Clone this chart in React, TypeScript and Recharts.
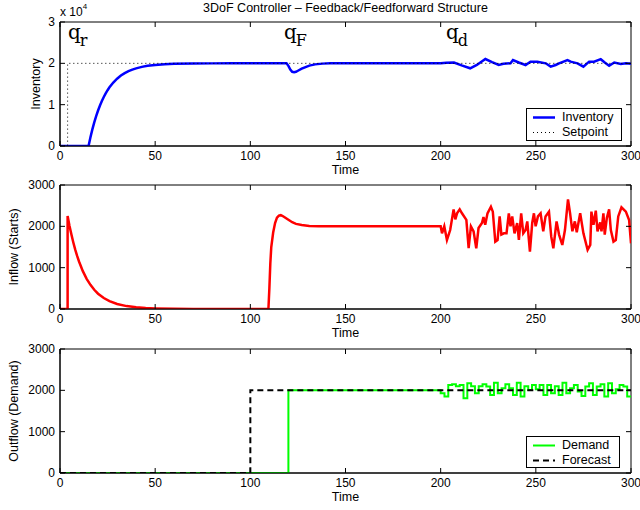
import React from 'react';
import { LineChart, Line, XAxis, YAxis, ReferenceDot, ReferenceArea, Legend } from 'recharts';

type Pt = [number, number];

const FONT = '"Liberation Sans", Arial, Helvetica, sans-serif';
const SERIF = '"DejaVu Serif", "Liberation Serif", serif';

// Axis ticks
const timeTicks = [0, 50, 100, 150, 200, 250, 300];
const inventoryTicks = [0, 10000, 20000, 30000];
const flowTicks = [0, 1000, 2000, 3000];

// Inventory level (units), sampled as [time, value]
const inventory: Pt[] = [
  [0, 0], [15, 0], [16, 2130], [17, 4030], [18, 5720], [19, 7230], [20, 8580], [21, 9810],
  [22, 10890], [23, 11860], [24, 12720], [25, 13500], [26, 14190], [28, 15360], [30, 16290],
  [32, 17040], [34, 17640], [36, 18110], [38, 18490], [40, 18790], [43, 19140], [46, 19390],
  [50, 19610], [55, 19780], [60, 19870], [70, 19960], [80, 19990], [90, 20000], [119, 20000],
  [120, 19400], [121, 18500], [122, 17950], [123, 17850], [124, 17950], [125, 18200], [127, 18700],
  [129, 19100], [131, 19450], [134, 19750], [138, 19930], [142, 20000], [200, 20000],
  [203, 20150], [207, 20200], [211, 19500], [215.5, 18800], [219, 19600], [223.5, 21050],
  [227, 20300], [230.5, 19600], [233, 19900], [236.7, 20000], [238, 20800], [241, 20200],
  [244.6, 19600], [247.2, 20400], [250.8, 20400], [255.2, 20000], [257.8, 19200], [260.4, 19600],
  [262.2, 20000], [266.6, 20800], [268.3, 20400], [271.9, 20000], [275, 19200], [278, 20400],
  [280.6, 20400], [284.1, 21000], [286.2, 20200], [288.5, 19400], [291.2, 20200], [294.7, 19850],
  [297.3, 20000], [300, 19900],
];

// Inventory setpoint (step)
const setpoint: Pt[] = [[0, 0], [4, 20000], [300, 20000]];

// Production starts (inflow)
const inflow: Pt[] = [
  [0, 0], [4, 0], [4, 2250], [5, 2010], [6, 1800], [7, 1610], [8, 1435], [9, 1285], [10, 1150],
  [12, 915], [14, 730], [16, 585], [18, 465], [20, 370], [23, 265], [26, 190], [30, 120],
  [35, 70], [40, 40], [45, 22], [50, 13], [60, 4], [70, 0], [109.5, 0], [110, 500], [110.5, 1100],
  [111, 1500], [112, 1850], [113, 2080], [114, 2210], [115, 2260], [116, 2270], [117, 2250],
  [118, 2220], [120, 2160], [122, 2100], [124, 2060], [127, 2030], [131, 2010], [136, 2000],
  [200, 2000], [200.7, 1830], [201.9, 2000], [203.3, 1670], [205, 1910], [206.8, 2410],
  [207.7, 2170], [208.6, 2315], [210, 2410], [211.2, 2315], [213.5, 2155], [214.7, 1470],
  [215.9, 2000], [217.3, 1880], [218.7, 1470], [219.9, 1960], [221.7, 2080], [222.5, 2225],
  [223.4, 2040], [224.6, 2315], [226.4, 2475], [227.4, 2355], [228.7, 1630], [229.9, 1670],
  [231, 2240], [231.9, 1800], [233.2, 1830], [234.6, 1830], [235.8, 2315], [236.7, 2000],
  [237.6, 2240], [238.8, 1830], [240.2, 2080], [241.1, 1670], [242.3, 2315], [243.4, 1830],
  [244.6, 1910], [245.5, 2120], [246.9, 1390], [248.1, 2080], [249, 2315], [249.9, 2000],
  [251.1, 2240], [252.5, 2315], [253.9, 1880], [255.1, 2240], [256.9, 2355], [258.1, 1750],
  [259.2, 1470], [260.9, 2120], [262.2, 1800], [263.9, 1550], [265.3, 1910], [266.9, 2650],
  [268, 2315], [269.2, 1880], [270.5, 2120], [271.5, 1855], [273.3, 2315], [275, 1830],
  [277.2, 1430], [278.6, 1550], [279.2, 2355], [280.3, 2040], [281.5, 2380], [282.4, 1880],
  [283.8, 2095], [284.5, 1880], [285.5, 2315], [286.2, 1800], [287.3, 2200], [288.5, 2410],
  [289.4, 1910], [290.8, 1630], [292, 1670], [293.3, 2240], [295, 2460], [297.3, 2355],
  [299, 2155], [300, 1590],
];

// Customer demand (outflow), held between samples
const demand: Pt[] = [
  [0, 0], [120, 2000], [200, 1930], [202, 1850], [204, 2130], [206, 2150], [208, 2100],
  [210, 2130], [212, 1810], [214, 2170], [216, 2100], [218, 1930], [220, 2100], [222, 2150],
  [224, 2090], [226, 1890], [228, 2185], [230, 1930], [232, 2050], [234, 2150], [236, 2050],
  [238, 1890], [240, 2185], [242, 1850], [244, 2100], [246, 2010], [248, 2130], [250, 2025],
  [252, 2130], [254, 1890], [256, 2130], [258, 1930], [260, 2100], [262, 1890], [264, 2185],
  [266, 1930], [268, 2050], [270, 2130], [272, 1970], [274, 1860], [276, 2090], [278, 2170],
  [280, 1890], [282, 2090], [284, 2150], [286, 1850], [288, 2170], [290, 1930], [292, 2025],
  [294, 2130], [296, 2090], [298, 1850], [300, 1850],
];

// Demand forecast (step)
const forecast: Pt[] = [[0, 0], [100, 2000], [300, 2000]];

// Controller-block markers on the inventory panel
const markers = [
  { t: 4.2, v: 25800, sub: 'r' },
  { t: 117.7, v: 25800, sub: 'F' },
  { t: 202.8, v: 25800, sub: 'd' },
];

const rows = (pts: Pt[]) => pts.map(([t, v]) => ({ t, v }));

const seriesStyle: Record<string, { stroke: string; width: number; dash?: string }> = {
  Inventory: { stroke: '#0000ff', width: 2.5 },
  Setpoint: { stroke: '#000000', width: 1, dash: '1 3' },
  Inflow: { stroke: '#ff0000', width: 2.5 },
  Demand: { stroke: '#00ff00', width: 2 },
  Forecast: { stroke: '#000000', width: 2, dash: '6 4' },
};

// Panel geometry
const CHART_W = 640;
const CHART_H = 180;
const Y_AXIS_W = 60;
const RIGHT = 9;
const PLOT_W = CHART_W - Y_AXIS_W - RIGHT;
const PLOT_H = 124;
const TL = 5;

const textStyle = { fontFamily: FONT, fill: '#000' };

// Bottom ticks point inward, mirrored on the top edge of the box
const bottomTick = (p: any) => (
  <g>
    <line x1={p.x} y1={p.y} x2={p.x} y2={p.y - TL} stroke="#000" />
    <line x1={p.x} y1={p.y - PLOT_H} x2={p.x} y2={p.y - PLOT_H + TL} stroke="#000" />
    <text x={p.x} y={p.y + 10} textAnchor="middle" dominantBaseline="central" fontSize={12} {...textStyle}>
      {p.payload.value}
    </text>
  </g>
);

// Left ticks point inward, mirrored on the right edge of the box
const leftTick = (fmt: (v: number) => string) => (p: any) => (
  <g>
    <line x1={p.x} y1={p.y} x2={p.x + TL} y2={p.y} stroke="#000" />
    <line x1={p.x + PLOT_W} y1={p.y} x2={p.x + PLOT_W - TL} y2={p.y} stroke="#000" />
    <text x={p.x - 5} y={p.y} textAnchor="end" dominantBaseline="central" fontSize={12} {...textStyle}>
      {fmt(p.payload.value)}
    </text>
  </g>
);

const timeTitle = (p: any) => {
  const vb = p.viewBox;
  if (!vb) return null;
  return (
    <text x={vb.x + vb.width / 2} y={vb.y + 24} textAnchor="middle" dominantBaseline="central" fontSize={12.5} {...textStyle}>
      Time
    </text>
  );
};

const yTitle = (label: string, cx: number, withHeader: boolean) => (p: any) => {
  const vb = p.viewBox;
  if (!vb) return null;
  const cy = vb.y + vb.height / 2;
  const axisX = vb.x + vb.width;
  return (
    <g>
      <text x={cx} y={cy} transform={`rotate(-90, ${cx}, ${cy})`} textAnchor="middle" dominantBaseline="central" fontSize={12.5} {...textStyle}>
        {label}
      </text>
      {withHeader && (
        <>
          <text x={axisX + PLOT_W / 2} y={vb.y - 14} textAnchor="middle" dominantBaseline="central" fontSize={12.5} {...textStyle}>
            3DoF Controller – Feedback/Feedforward Structure
          </text>
          <text x={axisX} y={vb.y - 10} dominantBaseline="central" fontSize={12} {...textStyle}>
            x 10
            <tspan dy={-6} fontSize={8}>4</tspan>
          </text>
        </>
      )}
    </g>
  );
};

const markerShape = (sub: string) => (p: any) => (
  <text x={p.cx} y={p.cy} fontFamily={SERIF} fontSize={20} fill="#000">
    q<tspan dy={7} dx={-1} fontSize={16}>{sub}</tspan>
  </text>
);

const legendBox = (p: any) => (
  <div style={{ border: '1px solid #000', background: '#fff', boxSizing: 'border-box', width: '100%', height: '100%', paddingTop: 1 }}>
    {(p.payload ?? []).map((e: any) => {
      const s = seriesStyle[e.value];
      return (
        <div key={e.value} style={{ display: 'flex', alignItems: 'center', height: 15 }}>
          <svg width={32} height={15} style={{ display: 'block' }}>
            <line x1={6} y1={7.5} x2={28} y2={7.5} stroke={s.stroke} strokeWidth={s.width} strokeDasharray={s.dash} />
          </svg>
          <span style={{ fontFamily: FONT, fontSize: 12.5, color: '#000', lineHeight: '15px', marginLeft: 3 }}>{e.value}</span>
        </div>
      );
    })}
  </div>
);

function frame(o: {
  yMax: number;
  yTicks: number[];
  yFmt: (v: number) => string;
  title: string;
  titleX: number;
  xHeight: number;
  withHeader?: boolean;
}) {
  return [
    <XAxis
      key="xb"
      dataKey="t"
      type="number"
      domain={[0, 300]}
      ticks={timeTicks}
      interval={0}
      allowDataOverflow
      height={o.xHeight}
      tickSize={0}
      tickMargin={0}
      tickLine={false}
      axisLine={{ stroke: '#000' }}
      tick={bottomTick}
      label={{ content: timeTitle }}
    />,
    <YAxis
      key="yl"
      type="number"
      domain={[0, o.yMax]}
      ticks={o.yTicks}
      interval={0}
      allowDataOverflow
      width={Y_AXIS_W}
      tickSize={0}
      tickMargin={0}
      tickLine={false}
      axisLine={{ stroke: '#000' }}
      tick={leftTick(o.yFmt)}
      label={{ content: yTitle(o.title, o.titleX, !!o.withHeader) }}
    />,
    <ReferenceArea key="box" x1={0} x2={300} y1={0} y2={o.yMax} fill="none" stroke="#000" strokeWidth={1} ifOverflow="visible" />,
  ];
}

const lineProps = { type: 'linear' as const, dataKey: 'v', dot: false, activeDot: false, isAnimationActive: false };

export default function App() {
  return (
    <div style={{ position: 'absolute', left: 0, top: 0, width: CHART_W, height: 510, background: '#fff' }}>
      <div style={{ position: 'absolute', left: 0, top: 0 }}>
        <LineChart width={CHART_W} height={CHART_H} margin={{ top: 22, right: RIGHT, left: 0, bottom: 0 }}>
          {frame({ yMax: 30000, yTicks: inventoryTicks, yFmt: (v) => String(v / 10000), title: 'Inventory', titleX: 36, xHeight: CHART_H - 22 - PLOT_H, withHeader: true })}
          <Line {...lineProps} data={rows(inventory)} name="Inventory" stroke={seriesStyle.Inventory.stroke} strokeWidth={seriesStyle.Inventory.width} />
          <Line {...lineProps} type="stepAfter" data={rows(setpoint)} name="Setpoint" stroke={seriesStyle.Setpoint.stroke} strokeWidth={seriesStyle.Setpoint.width} strokeDasharray={seriesStyle.Setpoint.dash} />
          {markers.map((m) => (
            <ReferenceDot key={m.sub} x={m.t} y={m.v} r={0} ifOverflow="visible" shape={markerShape(m.sub)} />
          ))}
          <Legend layout="vertical" align="center" verticalAlign="middle" content={legendBox} wrapperStyle={{ left: 526, top: 108, width: 96, height: 33 }} />
        </LineChart>
      </div>
      <div style={{ position: 'absolute', left: 0, top: 165 }}>
        <LineChart width={CHART_W} height={CHART_H} margin={{ top: 20, right: RIGHT, left: 0, bottom: 0 }}>
          {frame({ yMax: 3000, yTicks: flowTicks, yFmt: (v) => String(v), title: 'Inflow (Starts)', titleX: 14, xHeight: CHART_H - 20 - PLOT_H })}
          <Line {...lineProps} data={rows(inflow)} name="Inflow" stroke={seriesStyle.Inflow.stroke} strokeWidth={seriesStyle.Inflow.width} />
        </LineChart>
      </div>
      <div style={{ position: 'absolute', left: 0, top: 330 }}>
        <LineChart width={CHART_W} height={CHART_H} margin={{ top: 19, right: RIGHT, left: 0, bottom: 0 }}>
          {frame({ yMax: 3000, yTicks: flowTicks, yFmt: (v) => String(v), title: 'Outflow (Demand)', titleX: 14, xHeight: CHART_H - 19 - PLOT_H })}
          <Line {...lineProps} type="stepAfter" data={rows(demand)} name="Demand" stroke={seriesStyle.Demand.stroke} strokeWidth={seriesStyle.Demand.width} />
          <Line {...lineProps} type="stepAfter" data={rows(forecast)} name="Forecast" stroke={seriesStyle.Forecast.stroke} strokeWidth={seriesStyle.Forecast.width} strokeDasharray={seriesStyle.Forecast.dash} />
          <Legend layout="vertical" align="center" verticalAlign="middle" content={legendBox} wrapperStyle={{ left: 526, top: 106, width: 94, height: 32 }} />
        </LineChart>
      </div>
    </div>
  );
}
